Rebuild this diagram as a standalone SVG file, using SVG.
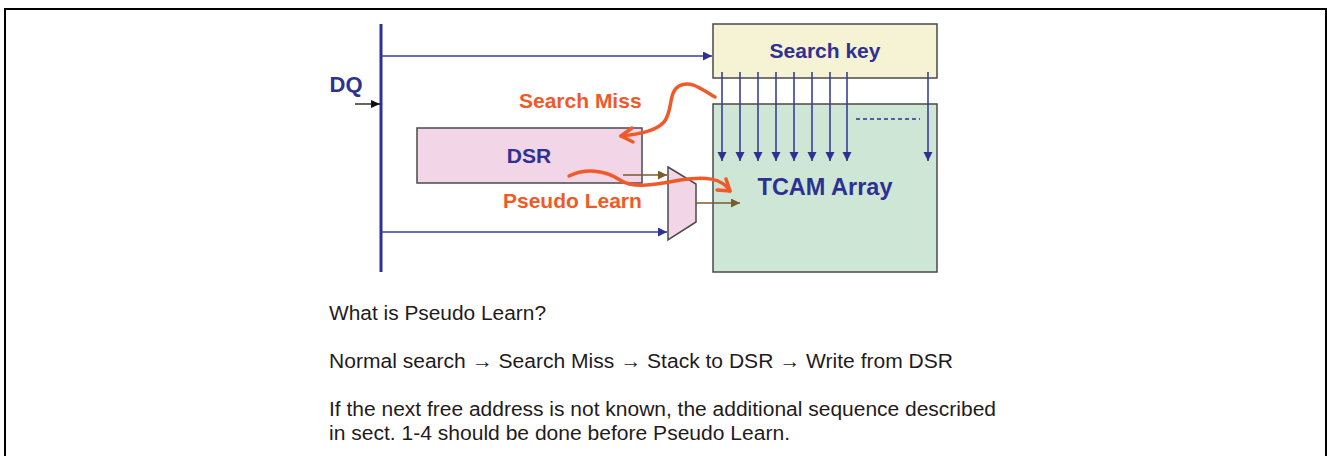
<svg xmlns="http://www.w3.org/2000/svg" width="1327" height="456" viewBox="0 0 1327 456">
<defs>
<style>
.box{stroke:#4a4a4a;stroke-width:1.5}
.lbl{font-family:"Liberation Sans",Arial,sans-serif;font-weight:bold;fill:#2e3192;text-anchor:middle}
.org{font-family:"Liberation Sans",Arial,sans-serif;font-weight:bold;fill:#f05a28;font-size:21px}
.body{font-family:"Liberation Sans",Arial,sans-serif;fill:#1f1b1c;font-size:20px}
.nv{stroke:#3a3f98;stroke-width:1.6;fill:none}
.br{stroke:#7b5a2e;stroke-width:1.6;fill:none}
.cv{stroke:#f05a28;stroke-width:3.5;fill:none;stroke-linecap:round;stroke-linejoin:round}
</style>
<marker id="an" markerUnits="userSpaceOnUse" markerWidth="10" markerHeight="10" refX="9" refY="4.5" orient="auto"><path d="M0,0 L9,4.5 L0,9 Z" fill="#2e3192"/></marker>
<marker id="ab" markerUnits="userSpaceOnUse" markerWidth="10" markerHeight="10" refX="9" refY="4.5" orient="auto"><path d="M0,0 L9,4.5 L0,9 Z" fill="#7b5a2e"/></marker>
<marker id="ak" markerUnits="userSpaceOnUse" markerWidth="10" markerHeight="10" refX="9" refY="4" orient="auto"><path d="M0,0 L9,4 L0,8 Z" fill="#111"/></marker>
</defs>
<rect width="1327" height="456" fill="#fff"/>
<path d="M5,458 V9 H1326 V458" fill="none" stroke="#000" stroke-width="2"/>

<g id="dq-bus">
<line x1="381" y1="24" x2="381" y2="272" stroke="#2e3192" stroke-width="3"/>
<text class="lbl" x="346" y="92" font-size="22">DQ</text>
</g>

<g id="search-key">
<rect class="box" x="713" y="24" width="224" height="54" fill="#f5f3d3"/>
<text class="lbl" x="825" y="58" font-size="21">Search key</text>
</g>

<g id="tcam">
<rect class="box" x="713" y="104" width="224" height="168" fill="#cde6d6"/>
<text class="lbl" x="825" y="195" font-size="23.5">TCAM Array</text>
<line x1="856" y1="119" x2="920" y2="119" stroke="#2e3192" stroke-width="1.3" stroke-dasharray="4,3"/>
</g>

<g id="dsr">
<rect class="box" x="417" y="128" width="225" height="55" fill="#f2d5e6"/>
<text class="lbl" x="529" y="163" font-size="21">DSR</text>
</g>

<g id="mux">
<polygon class="box" points="668,167 696,184 696,222 668,240" fill="#f2d5e6"/>
</g>

<g id="connectors">
<line x1="355" y1="104" x2="380" y2="104" stroke="#111" stroke-width="1.3" marker-end="url(#ak)"/>
<line class="nv" x1="382" y1="56" x2="712" y2="56" marker-end="url(#an)"/>
<line class="nv" x1="382" y1="232" x2="667" y2="232" marker-end="url(#an)"/>
<line class="nv" x1="722" y1="72" x2="722" y2="161" marker-end="url(#an)"/>
<line class="nv" x1="740" y1="72" x2="740" y2="161" marker-end="url(#an)"/>
<line class="nv" x1="758" y1="72" x2="758" y2="161" marker-end="url(#an)"/>
<line class="nv" x1="776" y1="72" x2="776" y2="161" marker-end="url(#an)"/>
<line class="nv" x1="794" y1="72" x2="794" y2="161" marker-end="url(#an)"/>
<line class="nv" x1="812" y1="72" x2="812" y2="161" marker-end="url(#an)"/>
<line class="nv" x1="830" y1="72" x2="830" y2="161" marker-end="url(#an)"/>
<line class="nv" x1="847" y1="72" x2="847" y2="161" marker-end="url(#an)"/>
<line class="nv" x1="928" y1="72" x2="928" y2="161" marker-end="url(#an)"/>
<line class="br" x1="623" y1="175" x2="667" y2="175" marker-end="url(#ab)"/>
<line class="br" x1="696" y1="203" x2="740" y2="203" marker-end="url(#ab)"/>
<path class="cv" d="M715,97 C700,88 690,80 679,86 C668,92 673,112 664,122 C656,131 640,134 621,136"/>
<path class="cv" d="M632,128 L621,136 L633,142"/>
<path class="cv" d="M569,176 C585,168 605,170 620,180 C632,188 650,186 680,180 C705,176 722,178 730,191"/>
<path class="cv" d="M726,179 L730,191 L717,190"/>
</g>

<g id="labels">
<text class="org" x="519" y="108">Search Miss</text>
<text class="org" x="503" y="208">Pseudo Learn</text>
</g>

<g id="notes">
<text class="body" x="329" y="320" textLength="217" lengthAdjust="spacingAndGlyphs">What is Pseudo Learn?</text>
<text class="body" x="329" y="368" textLength="624" lengthAdjust="spacingAndGlyphs">Normal search → Search Miss → Stack to DSR → Write from DSR</text>
<text class="body" x="329" y="416" textLength="667" lengthAdjust="spacingAndGlyphs">If the next free address is not known, the additional sequence described</text>
<text class="body" x="329" y="440" textLength="461" lengthAdjust="spacingAndGlyphs">in sect. 1-4 should be done before Pseudo Learn.</text>
</g>
</svg>
